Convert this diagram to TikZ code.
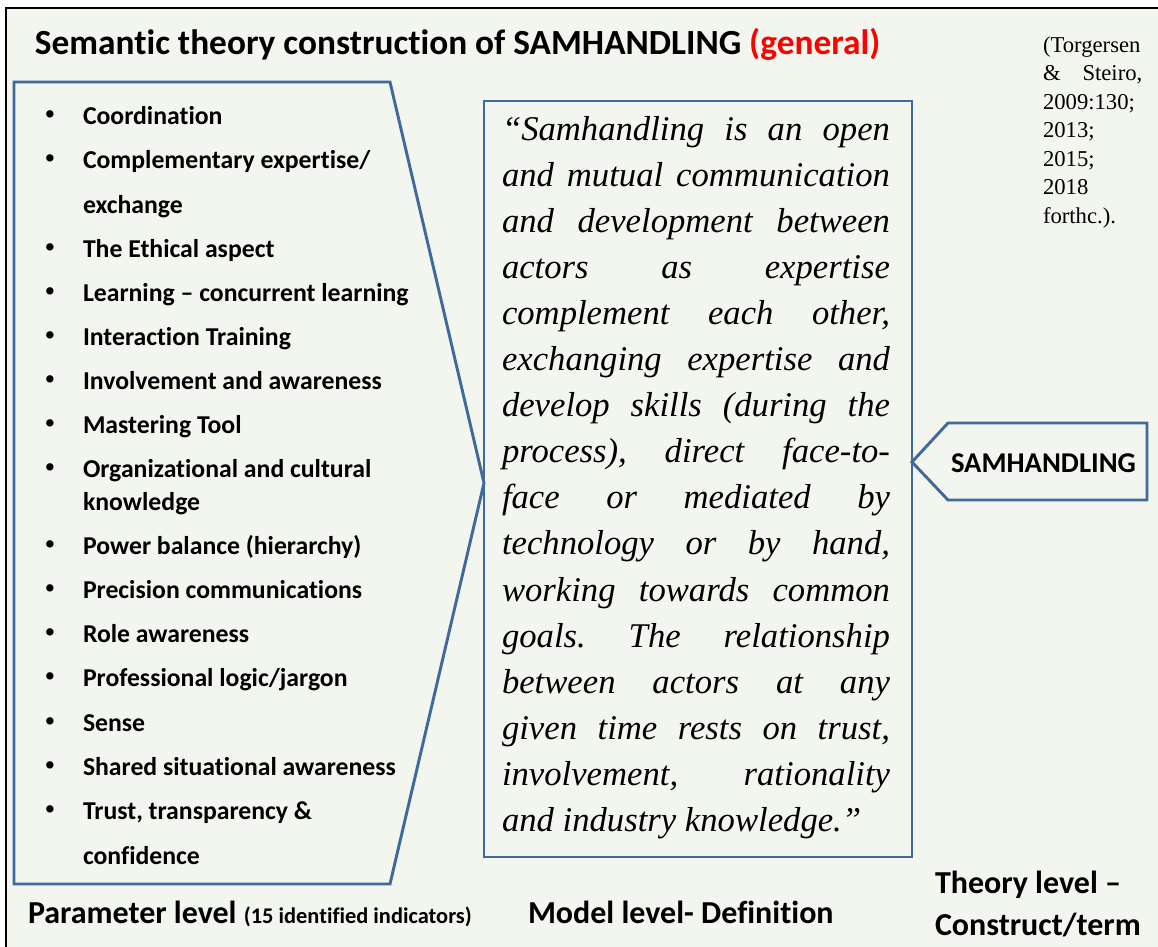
\documentclass[tikz,border=0pt]{standalone}
\usepackage{fontspec}
\setmainfont{Liberation Serif}
\newfontfamily\calfont[Ligatures=NoCommon]{Carlito}
\definecolor{bg}{RGB}{243,246,238}
\definecolor{shapeblue}{RGB}{65,105,155}
\definecolor{titlered}{RGB}{255,0,0}
\tikzset{
  outline/.style={draw=shapeblue, line width=2.2pt, line join=miter},
  txt/.style={inner sep=0pt, outer sep=0pt, anchor=base west},
  bullettxt/.style={inner sep=0pt, outer sep=0pt, anchor=base, font=\fontsize{23}{26}\selectfont},
  listtxt/.style={txt, font=\calfont\bfseries\fontsize{19.3}{22}\selectfont},
  deftxt/.style={txt, font=\itshape\fontsize{26}{30}\selectfont},
  citetxt/.style={txt, font=\fontsize{17}{20}\selectfont},
  leveltxt/.style={txt, font=\calfont\bfseries\fontsize{24}{28}\selectfont},
}
\newcommand{\listitem}[3]{%
  \node[bullettxt] (b#1) at (50,#2) {•};
  \node[listtxt] (l#1) at (83,#2) {#3};}
\newcommand{\listcont}[3]{\node[listtxt] (l#1) at (83,#2) {#3};}
\newcommand{\defline}[3]{\node[deftxt] (d#1) at (502,{140+46.1*(#1-1)}) {\makebox[291pt][#2]{#3}};}
\begin{document}
\frenchspacing
\begin{tikzpicture}[x=0.75pt,y=-0.75pt]
\clip (0,0) rectangle (1158,947);
\fill[white] (0,0) rectangle (1158,947);
\draw[line width=2pt, fill=bg] (6,8) rectangle (1175,965);
% title
\node[txt, font=\calfont\bfseries\fontsize{26.5}{32}\selectfont] (title) at (35,54)
  {Semantic theory construction of SAMHANDLING \textcolor{titlered}{(general)}};
% citation
\node[citetxt] (c1) at (1043,52) {\makebox[74.5pt][s]{(Torgersen}};
\node[citetxt] (c2) at (1043,80.5) {\makebox[74.5pt][s]{\& Steiro,}};
\node[citetxt] (c3) at (1043,109) {2009:130;};
\node[citetxt] (c4) at (1043,137.5) {2013;};
\node[citetxt] (c5) at (1043,166) {2015;};
\node[citetxt] (c6) at (1043,194.5) {2018};
\node[citetxt] (c7) at (1043,223) {forthc.).};
% shapes
\coordinate (p1) at (14,82);
\coordinate (p2) at (390,82);
\coordinate (ptip) at (484,483);
\coordinate (p3) at (390,884);
\coordinate (p4) at (14,884);
\draw[outline] (p1) -- (p2) -- (ptip) -- (p3) -- (p4) -- cycle;
\coordinate (m1) at (484,101);
\coordinate (m2) at (912,857);
\draw[outline] (m1) rectangle (m2);
\coordinate (a0) at (912,462);
\coordinate (a1) at (948,423);
\coordinate (a2) at (1147,423);
\coordinate (a3) at (1147,500);
\coordinate (a4) at (948,500);
\draw[outline] (a0) -- (a1) -- (a2) -- (a3) -- (a4) -- cycle;
\node[txt, font=\calfont\bfseries\fontsize{21.5}{25}\selectfont] (sam) at (951,472) {SAMHANDLING};
% list
\listitem{1}{124}{Coordination}
\listitem{2}{168}{Complementary expertise/}
\listcont{2b}{213}{exchange}
\listitem{3}{257}{The Ethical aspect}
\listitem{4}{301}{Learning – concurrent learning}
\listitem{5}{345}{Interaction Training}
\listitem{6}{389}{Involvement and awareness}
\listitem{7}{433}{Mastering Tool}
\listitem{8}{477}{Organizational and cultural}
\listcont{8b}{510}{knowledge}
\listitem{9}{554}{Power balance (hierarchy)}
\listitem{10}{598}{Precision communications}
\listitem{11}{642}{Role awareness}
\listitem{12}{686}{Professional logic/jargon}
\listitem{13}{731}{Sense}
\listitem{14}{775}{Shared situational awareness}
\listitem{15}{819}{Trust, transparency \&}
\listcont{15b}{864}{confidence}
% definition
\defline{1}{s}{“Samhandling is an open}
\defline{2}{s}{and mutual communication}
\defline{3}{s}{and development between}
\defline{4}{s}{actors as expertise}
\defline{5}{s}{complement each other,}
\defline{6}{s}{exchanging expertise and}
\defline{7}{s}{develop skills (during the}
\defline{8}{s}{process), direct face-to-}
\defline{9}{s}{face or mediated by}
\defline{10}{s}{technology or by hand,}
\defline{11}{s}{working towards common}
\defline{12}{s}{goals. The relationship}
\defline{13}{s}{between actors at any}
\defline{14}{s}{given time rests on trust,}
\defline{15}{s}{involvement, rationality}
\defline{16}{l}{and industry knowledge.”}
% level labels
\node[leveltxt] (lev1) at (28,923) {Parameter level {\fontsize{16.8}{20}\selectfont (15 identified indicators)}};
\node[leveltxt] (lev2) at (528,923) {Model level- Definition};
\node[leveltxt] (lev3) at (935,893) {Theory level –};
\node[leveltxt] (lev3b) at (935,935) {Construct/term};
\end{tikzpicture}
\end{document}
